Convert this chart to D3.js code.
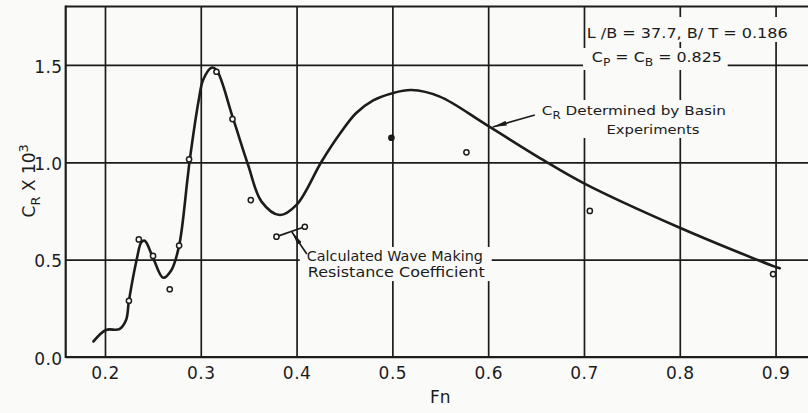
<!DOCTYPE html>
<html><head><meta charset="utf-8">
<script src="https://cdn.jsdelivr.net/npm/d3@7"></script>
<style>
html,body{margin:0;padding:0;background:#fafaf8;}
svg{display:block;}
text{font-family:"DejaVu Sans",sans-serif;fill:#1c1c1c;}
</style>
</head><body>
<svg id="c" width="808" height="413"></svg>
<script>
// ---------- data ----------
const xTicks = [0.2, 0.3, 0.4, 0.5, 0.6, 0.7, 0.8, 0.9];
const xTickLabels = ["0.2", "0.3", "0.4", "0.5", "0.6", "0.7", "0.8", "0.9"];
const yTicks = [0.0, 0.5, 1.0, 1.5];
const yTickLabels = ["0.0", "0.5", "1.0", "1.5"];

// C_R determined by basin experiments (curve)
const curveFn = [0.188, 0.201, 0.215, 0.222, 0.225, 0.233, 0.238, 0.2415, 0.250, 0.2607, 0.2694, 0.2774,
  0.286, 0.2885, 0.2982, 0.3024, 0.3112, 0.3164, 0.3331, 0.3494, 0.3634, 0.3825, 0.3999, 0.426, 0.445,
  0.462, 0.480, 0.500, 0.520, 0.5495, 0.5982, 0.6573, 0.700, 0.800, 0.8992, 0.9044];
const curveCr = [0.080, 0.139, 0.143, 0.190, 0.289, 0.498, 0.590, 0.597, 0.512, 0.407, 0.447, 0.572,
  0.909, 1.012, 1.329, 1.423, 1.486, 1.474, 1.234, 0.986, 0.798, 0.729, 0.781, 1.003, 1.145,
  1.252, 1.318, 1.355, 1.371, 1.337, 1.192, 1.012, 0.892, 0.664, 0.464, 0.456];

// Calculated wave making resistance coefficient (points)
const pointFn = [0.225, 0.2353, 0.2502, 0.2676, 0.2774, 0.2878, 0.3164, 0.3331, 0.3522, 0.379, 0.4086,
  0.499, 0.5773, 0.7061, 0.8974];
const pointCr = [0.289, 0.604, 0.519, 0.348, 0.572, 1.015, 1.465, 1.222, 0.806, 0.618, 0.669,
  1.126, 1.051, 0.750, 0.426];

// ---------- layout ----------
const svg = d3.select("#c");
const BG = "#fafaf8", INK = "#1c1c1c";
svg.append("rect").attr("width", 808).attr("height", 413).attr("fill", BG);

const x = d3.scaleLinear().domain([0.159, 0.94]).range([65.7, 813.9]);
const y = d3.scaleLinear().domain([0, 1.8]).range([357, 6.5]);
const [x0, x1] = x.range(), [y0, y1] = y.range();

// grid via axes
const gx = svg.append("g").attr("transform", `translate(0,${y0})`)
  .call(d3.axisBottom(x).tickValues(xTicks).tickFormat((d, i) => xTickLabels[i])
    .tickSize(-(y0 - y1)).tickPadding(10));
gx.select(".domain").remove();
gx.selectAll(".tick line").attr("stroke", INK).attr("stroke-width", 1.7);
gx.selectAll(".tick text").attr("font-size", 17).attr("fill", INK)
  .attr("font-family", "DejaVu Sans").attr("letter-spacing", "0.5px");

const gy = svg.append("g").attr("transform", `translate(${x0},0)`)
  .call(d3.axisLeft(y).tickValues(yTicks).tickFormat((d, i) => yTickLabels[i])
    .tickSize(-(x1 - x0)).tickPadding(3));
gy.select(".domain").remove();
gy.selectAll(".tick line").attr("stroke", INK).attr("stroke-width", 1.7);
gy.selectAll(".tick text").attr("font-size", 17).attr("fill", INK)
  .attr("font-family", "DejaVu Sans").attr("letter-spacing", "0.5px").attr("dy", "0.42em");

// frame: top, left, bottom
svg.append("line").attr("x1", x0).attr("x2", x1).attr("y1", y1).attr("y2", y1).attr("stroke", INK).attr("stroke-width", 2.2);
svg.append("line").attr("x1", x0).attr("x2", x0).attr("y1", y1 - 1).attr("y2", y0 + 1).attr("stroke", INK).attr("stroke-width", 2.2);
svg.append("line").attr("x1", x0).attr("x2", x1).attr("y1", y0).attr("y2", y0).attr("stroke", INK).attr("stroke-width", 2.2);

// knock-out backgrounds behind annotation text (data-space boxes: f0, f1, v0, v1)
const knock = [
  [0.7040, 0.9148, 1.746, 1.618],   // L/B line
  [0.6990, 0.850, 1.587, 1.474],    // Cp line
  [0.6518, 0.850, 1.320, 1.125],    // C_R determined
  [0.4033, 0.6037, 0.565, 0.390]    // Calculated
];
svg.selectAll("rect.ko").data(knock).join("rect").attr("class", "ko")
  .attr("x", d => x(d[0])).attr("width", d => x(d[1]) - x(d[0]))
  .attr("y", d => y(d[2])).attr("height", d => y(d[3]) - y(d[2]))
  .attr("fill", BG);

// curve
const curveData = curveFn.map((f, i) => [f, curveCr[i]]);
svg.append("path").datum(curveData)
  .attr("d", d3.line().x(d => x(d[0])).y(d => y(d[1])).curve(d3.curveCatmullRom.alpha(0.5)))
  .attr("fill", "none").attr("stroke", INK).attr("stroke-width", 2.6).attr("stroke-linecap", "round");

// line linking the two calculated points near Fn 0.38-0.41
svg.append("line").attr("x1", x(pointFn[9])).attr("y1", y(pointCr[9]))
  .attr("x2", x(pointFn[10])).attr("y2", y(pointCr[10]))
  .attr("stroke", INK).attr("stroke-width", 1.8);

// points
const pts = pointFn.map((f, i) => [f, pointCr[i]]);
svg.selectAll("circle.p").data(pts).join("circle").attr("class", "p")
  .attr("cx", d => x(d[0])).attr("cy", d => y(d[1])).attr("r", 2.6)
  .attr("fill", (d, i) => i === 11 ? INK : BG).attr("stroke", INK).attr("stroke-width", 1.5);

// arrow markers
const defs = svg.append("defs");
defs.append("marker").attr("id", "ah").attr("viewBox", "0 0 14 6").attr("refX", 14).attr("refY", 3)
  .attr("markerWidth", 14).attr("markerHeight", 6).attr("markerUnits", "userSpaceOnUse")
  .attr("orient", "auto")
  .append("path").attr("d", "M0,0.6 L14,3 L0,5.4 Z").attr("fill", INK);

const arrows = [
  [0.4107, 0.529, 0.3951, 0.642],   // calculated
  [0.6487, 1.243, 0.6048, 1.181]    // C_R
];
svg.selectAll("line.ar").data(arrows).join("line").attr("class", "ar")
  .attr("x1", d => x(d[0])).attr("y1", d => y(d[1]))
  .attr("x2", d => x(d[2])).attr("y2", d => y(d[3]))
  .attr("stroke", INK).attr("stroke-width", 1.6).attr("marker-end", "url(#ah)");

// rich text helper
function rich(px, py, parts, size, anchor, width) {
  const t = svg.append("text").attr("x", px).attr("y", py).attr("font-size", size)
    .attr("text-anchor", anchor || "start");
  let shift = 0;
  parts.forEach(p => {
    const target = p.sub ? size * 0.32 : p.sup ? -size * 0.42 : 0;
    const ts = t.append("tspan").attr("dy", target - shift).text(p.t);
    if (p.sub || p.sup) ts.attr("font-size", size * 0.78);
    shift = target;
  });
  if (width) t.attr("textLength", width).attr("lengthAdjust", "spacingAndGlyphs");
  return t;
}

rich(x(0.7029), y(1.638), [{t: "L /B = 37.7,  B/ T = 0.186"}], 14, "start", 201);
rich(x(0.7082), y(1.515), [{t: "C"}, {t: "P", sub: 1}, {t: " = C"}, {t: "B", sub: 1}, {t: " = 0.825"}], 14, "start", 130);
rich(x(0.656), y(1.245), [{t: "C"}, {t: "R", sub: 1}, {t: " Determined by Basin"}], 13, "start", 184);
rich(x(0.772), y(1.145), [{t: "Experiments"}], 13, "middle", 93);
rich(x(0.4107), y(0.493), [{t: "Calculated Wave Making"}], 13.5, "start", 176);
rich(x(0.4117), y(0.411), [{t: "Resistance Coefficient"}], 13.5, "start", 177);

// axis titles
svg.append("text").attr("x", x(0.55)).attr("y", 403).attr("text-anchor", "middle")
  .attr("font-size", 17).text("Fn");

const yl = svg.append("text").attr("transform", `translate(35,${y(0.905)}) rotate(-90)`)
  .attr("text-anchor", "middle").attr("font-size", 17);
yl.append("tspan").text("C");
yl.append("tspan").attr("dy", 5).attr("font-size", 13).text("R");
yl.append("tspan").attr("dy", -5).text(" X 10");
yl.append("tspan").attr("dy", -7).attr("font-size", 13).text("3");
</script>
</body></html>
